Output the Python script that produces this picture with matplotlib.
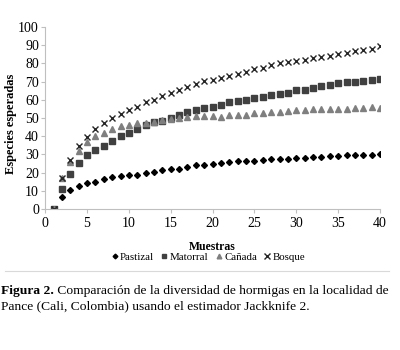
import matplotlib.pyplot as plt
import numpy as np

plt.rcParams['font.family'] = ['Liberation Serif', 'DejaVu Serif']

muestras = list(range(1, 41))

pastizal = [0, 6.8, 10.5, 12.7, 14.1, 14.9, 16.3, 17.6, 18.0, 18.5,
            18.9, 19.6, 20.5, 21.3, 21.7, 22.2, 23.3, 23.9, 24.0, 24.8,
            25.3, 25.7, 26.1, 26.2, 26.4, 26.8, 27.2, 27.3, 27.7, 27.9,
            28.1, 28.6, 28.8, 29.0, 29.0, 29.4, 29.5, 29.5, 29.7, 30.1]
matorral = [0, 11.0, 19.3, 25.5, 29.4, 32.5, 34.5, 37.2, 40.0, 42.0,
            44.0, 46.0, 47.7, 48.4, 50.0, 51.7, 53.0, 54.1, 55.2, 56.1,
            57.2, 58.5, 59.4, 60.0, 60.7, 61.5, 62.4, 62.9, 63.9, 65.1,
            65.3, 66.6, 67.3, 68.3, 69.4, 69.5, 69.9, 70.5, 71.0, 71.4]
canada = [0, 17.0, 26.0, 32.0, 36.7, 40.0, 41.8, 44.2, 45.7, 46.4,
          47.0, 47.3, 47.7, 48.6, 49.4, 49.7, 50.5, 50.8, 50.8, 50.8,
          50.6, 51.7, 51.7, 51.7, 52.5, 52.8, 53.4, 53.4, 53.9, 54.1,
          54.5, 54.7, 55.0, 55.0, 55.0, 55.0, 55.2, 55.2, 55.8, 55.4]
bosque = [0, 17.2, 27.0, 34.7, 39.3, 43.7, 47.0, 49.7, 52.0, 54.1,
          55.8, 58.5, 60.0, 62.2, 63.7, 65.1, 67.0, 68.6, 70.1, 71.0,
          71.9, 73.2, 74.3, 75.0, 76.9, 77.6, 79.1, 80.0, 80.6, 81.3,
          81.8, 82.8, 83.3, 84.0, 85.1, 85.7, 86.6, 87.5, 87.9, 89.4]

fig = plt.figure(figsize=(4, 3.5), dpi=100)
ax = fig.add_axes([0.113, 0.403, 0.837, 0.52])

ax.plot(muestras, pastizal, 'D', color='black', markersize=3, label='Pastizal', linestyle='none')
ax.plot(muestras, matorral, 's', color='#404040', markersize=4, label='Matorral', linestyle='none')
ax.plot(muestras, canada, '^', color='#7f7f7f', markersize=4.2, label='Cañada', linestyle='none')
ax.plot(muestras, bosque, 'x', color='#262626', markersize=5, markeredgewidth=1.0, label='Bosque', linestyle='none')

ax.set_xlim(0, 40)
ax.set_ylim(0, 100)
ax.set_xticks(range(0, 41, 5))
ax.set_yticks(range(0, 101, 10))
for s in ['top', 'right']:
    ax.spines[s].set_visible(False)
for s in ['left', 'bottom']:
    ax.spines[s].set_color('#bfbfbf')
    ax.spines[s].set_linewidth(0.8)
ax.tick_params(colors='#bfbfbf', labelcolor='black', labelsize=10, length=3, width=0.8)
ax.tick_params(axis='y', pad=1.5)
ax.tick_params(axis='x', pad=3)
ax.set_xlabel('Muestras', fontsize=8.5, fontweight='bold')
ax.xaxis.set_label_coords(0.5, -0.175)
ax.set_ylabel('Especies esperadas', fontsize=9, fontweight='bold')
ax.yaxis.set_label_coords(-0.083, 0.47)

fig.legend(loc='center', bbox_to_anchor=(0.52, 0.265), ncol=4, frameon=False, fontsize=7.8,
           handletextpad=0.15, columnspacing=0.6, handlelength=0.7, markerscale=0.8)

fig.add_artist(plt.Line2D([0.012, 0.972], [0.226, 0.226], color='#d9d9d9', linewidth=0.8))

t1 = fig.text(0.003, 0.16, 'Figura 2.', fontsize=9.7, fontweight='bold')
fig.canvas.draw()
bb = t1.get_window_extent()
x2 = bb.x1 / fig.bbox.width
fig.text(x2, 0.16, ' Comparación de la diversidad de hormigas en la localidad de', fontsize=9.7)
fig.text(0.003, 0.115, 'Pance (Cali, Colombia) usando el estimador Jackknife 2.', fontsize=9.7)

fig.savefig('out.png', dpi=100)
